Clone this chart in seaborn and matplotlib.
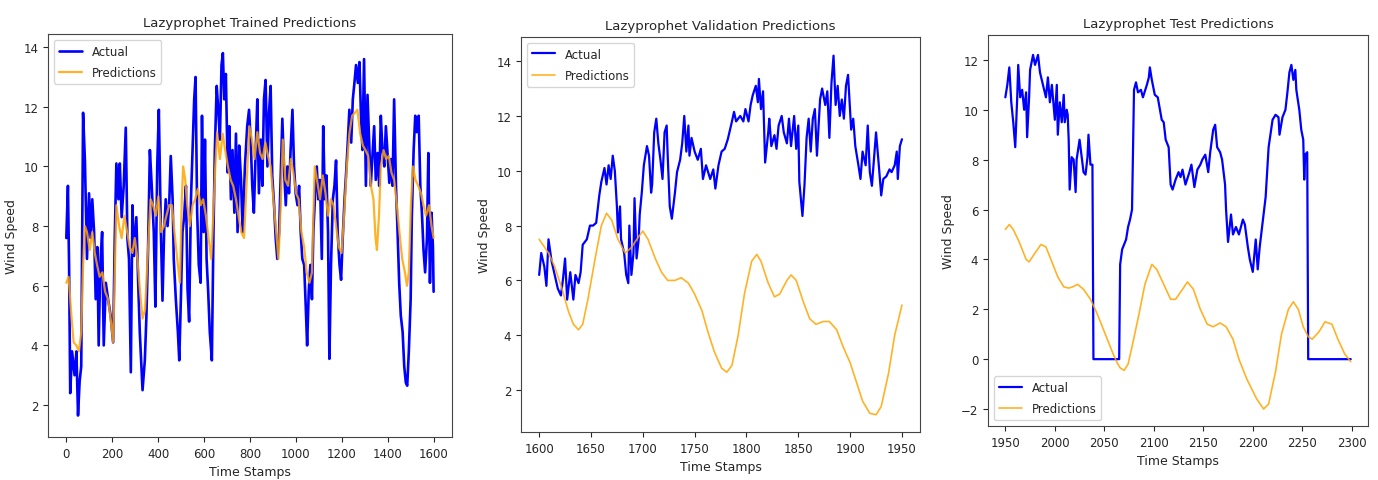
import matplotlib
matplotlib.use("Agg")
import matplotlib.pyplot as plt
import seaborn as sns
import numpy as np

# ---------------- data ----------------
train_t = [0, 7, 12, 17, 25, 36, 44, 51, 58, 65, 73, 81, 90, 99, 106, 113, 121, 128, 135, 141,
           148, 156, 163, 172, 182, 193, 204, 211, 218, 227, 233, 241, 250, 259, 266, 273, 281, 288, 295, 305,
           313, 320, 332, 342, 349, 356, 364, 372, 381, 388, 396, 403, 412, 419, 426, 433, 441, 448, 455, 463,
           468, 477, 486, 492, 499, 506, 513, 521, 528, 535, 543, 550, 557, 563, 570, 577, 585, 591, 598, 604,
           611, 618, 625, 634, 641, 647, 655, 662, 669, 676, 682, 688, 695, 703, 710, 717, 724, 732, 739, 746,
           753, 761, 768, 778, 788, 796, 803, 810, 817, 825, 832, 839, 847, 854, 861, 868, 876, 883, 890, 897,
           905, 912, 919, 927, 934, 941, 948, 956, 963, 970, 977, 985, 992, 999, 1007, 1014, 1021, 1028, 1036, 1043,
           1049, 1056, 1063, 1070, 1076, 1084, 1091, 1098, 1105, 1113, 1119, 1126, 1133, 1140, 1146, 1153, 1161, 1168, 1175, 1182,
           1190, 1197, 1204, 1212, 1219, 1226, 1233, 1241, 1248, 1255, 1262, 1270, 1277, 1284, 1290, 1297, 1305, 1312, 1319, 1326,
           1334, 1341, 1348, 1356, 1363, 1370, 1377, 1385, 1392, 1399, 1407, 1414, 1421, 1428, 1436, 1443, 1450, 1457, 1465, 1472,
           1479, 1485, 1492, 1500, 1505, 1513, 1520, 1527, 1535, 1542, 1549, 1556, 1563, 1571, 1577, 1584, 1591, 1597, 1600]
train_actual = [7.6, 9.35, 6.7, 2.4, 3.8, 3.0, 3.8, 1.65, 2.8, 3.3, 11.8, 10.2, 6.9, 9.1, 7.6, 8.9, 7.8, 5.55, 7.3, 4.0,
                6.7, 7.8, 4.0, 6.1, 5.55, 5.0, 4.1, 7.6, 10.1, 8.9, 10.1, 8.3, 9.35, 11.3, 7.6, 6.9, 3.1, 8.7, 7.0, 8.3,
                6.1, 4.45, 2.5, 3.5, 5.0, 7.2, 10.55, 9.35, 7.8, 5.3, 10.0, 11.9, 7.8, 5.5, 7.8, 8.9, 8.0, 8.7, 10.35, 8.9,
                6.9, 5.55, 4.45, 3.5, 5.55, 7.8, 8.3, 9.35, 5.9, 4.8, 8.9, 10.55, 12.25, 13.0, 8.45, 6.7, 6.1, 11.7, 7.8, 10.9,
                6.9, 5.8, 4.45, 3.5, 7.8, 10.55, 12.7, 11.9, 10.9, 13.4, 13.8, 12.25, 13.1, 9.8, 11.35, 8.9, 10.55, 8.45, 11.1, 7.8,
                10.7, 9.55, 7.8, 10.0, 11.35, 11.9, 10.9, 9.35, 8.45, 10.55, 12.25, 9.1, 10.9, 9.35, 12.25, 12.9, 10.0, 11.8, 12.7, 9.7,
                8.7, 7.6, 6.9, 7.8, 9.7, 11.6, 10.0, 8.7, 10.0, 9.1, 10.55, 11.9, 10.0, 9.1, 8.7, 9.35, 7.8, 6.9, 6.7, 5.3,
                4.0, 5.8, 6.7, 5.55, 7.8, 9.1, 10.0, 8.9, 9.55, 6.9, 11.35, 8.9, 9.7, 7.8, 3.55, 6.7, 8.9, 9.35, 10.2, 7.8,
                6.7, 6.2, 7.6, 8.9, 9.8, 10.8, 11.9, 10.8, 12.25, 12.8, 13.4, 12.8, 13.5, 11.6, 10.55, 13.6, 9.35, 12.4, 10.9, 9.35,
                10.45, 11.35, 9.55, 10.45, 9.35, 11.7, 10.55, 10.0, 11.35, 10.45, 9.45, 10.25, 9.35, 12.25, 9.35, 7.8, 6.1, 5.0, 4.45, 3.3,
                2.75, 2.65, 3.8, 5.55, 8.3, 10.55, 11.7, 11.15, 11.7, 9.35, 8.45, 7.2, 6.45, 7.6, 10.45, 6.1, 8.45, 7.3, 5.8]

train_pred_t = [0, 10, 22, 32, 44, 55, 65, 73, 81, 90, 102, 113, 124, 134, 145, 157, 169, 182, 193, 204,
                211, 218, 230, 241, 253, 265, 276, 288, 298, 310, 320, 332, 343, 355, 367, 378, 390, 401, 413, 425,
                436, 448, 460, 471, 483, 495, 503, 509, 518, 527, 538, 550, 561, 573, 585, 596, 608, 620, 631, 640,
                649, 657, 669, 681, 692, 704, 716, 727, 739, 750, 762, 774, 785, 797, 809, 820, 832, 844, 855, 867,
                879, 890, 902, 914, 924, 934, 943, 954, 966, 978, 989, 1001, 1012, 1024, 1036, 1047, 1059, 1070, 1082, 1094,
                1105, 1117, 1129, 1140, 1152, 1164, 1175, 1187, 1199, 1210, 1222, 1233, 1245, 1257, 1268, 1280, 1292, 1303, 1315, 1327,
                1338, 1347, 1353, 1362, 1370, 1382, 1393, 1405, 1416, 1428, 1440, 1451, 1463, 1475, 1484, 1492, 1501, 1510, 1521, 1533,
                1545, 1556, 1567, 1580, 1591, 1600]
train_pred = [6.1, 6.3, 5.0, 4.1, 4.0, 3.8, 4.45, 6.7, 8.0, 7.8, 7.2, 7.8, 7.1, 6.7, 6.3, 6.45, 5.8, 5.55, 4.9, 4.1,
              6.45, 8.7, 8.0, 7.6, 8.35, 7.8, 7.3, 7.1, 7.6, 6.9, 5.9, 4.9, 5.2, 7.1, 8.9, 8.7, 8.35, 9.0, 7.8, 8.0,
              8.35, 8.7, 8.7, 7.8, 6.9, 6.1, 8.9, 10.0, 9.55, 8.7, 8.0, 8.7, 8.9, 9.25, 8.7, 8.9, 8.35, 7.6, 6.9, 8.35,
              10.0, 11.15, 10.25, 11.1, 10.55, 10.0, 9.55, 9.35, 8.9, 8.35, 7.8, 7.6, 9.35, 11.35, 10.9, 10.25, 11.15, 10.45, 10.25, 10.8,
              10.35, 10.0, 8.9, 7.8, 6.9, 8.7, 10.9, 9.55, 9.35, 10.25, 9.8, 9.1, 8.9, 7.8, 7.3, 6.45, 6.1, 6.45, 10.0, 9.45,
              8.9, 9.7, 9.1, 8.35, 8.9, 8.7, 8.0, 7.3, 7.1, 8.35, 10.0, 11.1, 11.7, 11.8, 11.9, 11.1, 10.7, 10.55, 10.35, 9.35,
              8.9, 7.6, 7.2, 8.35, 10.0, 10.55, 10.25, 10.35, 9.8, 9.55, 8.7, 7.8, 6.9, 6.45, 6.0, 6.45, 8.7, 10.0, 9.55, 9.35,
              9.1, 8.7, 8.35, 8.7, 8.0, 7.6]

val_t = [1600, 1602, 1605, 1607, 1609, 1612, 1615, 1618, 1621, 1623, 1625, 1627, 1630, 1633, 1635, 1638, 1640, 1642, 1646, 1649,
         1652, 1655, 1658, 1660, 1663, 1665, 1667, 1669, 1671, 1673, 1675, 1676, 1678, 1679, 1682, 1684, 1686, 1687, 1689, 1691,
         1692, 1694, 1696, 1697, 1699, 1701, 1704, 1706, 1708, 1709, 1711, 1713, 1715, 1717, 1719, 1721, 1723, 1724, 1726, 1728,
         1731, 1733, 1736, 1738, 1740, 1742, 1744, 1745, 1747, 1750, 1753, 1756, 1758, 1761, 1765, 1768, 1770, 1773, 1776, 1779,
         1782, 1786, 1788, 1790, 1794, 1797, 1799, 1802, 1804, 1806, 1809, 1811, 1812, 1814, 1816, 1818, 1821, 1822, 1824, 1827,
         1829, 1831, 1834, 1836, 1839, 1841, 1843, 1846, 1848, 1850, 1851, 1854, 1856, 1858, 1860, 1862, 1864, 1866, 1868, 1871,
         1873, 1876, 1878, 1880, 1882, 1884, 1886, 1888, 1890, 1892, 1894, 1896, 1898, 1901, 1903, 1905, 1908, 1910, 1912, 1915,
         1917, 1919, 1921, 1923, 1925, 1928, 1930, 1932, 1935, 1938, 1940, 1943, 1945, 1946, 1948, 1950]
val_actual = [6.2, 7.0, 6.5, 5.8, 7.5, 6.7, 6.2, 5.7, 5.45, 6.05, 6.8, 5.3, 6.3, 5.3, 6.2, 5.9, 6.3, 7.3, 7.5, 8.0,
              8.0, 8.1, 9.1, 9.6, 10.1, 9.5, 10.2, 9.7, 10.55, 10.0, 8.7, 7.75, 8.7, 7.5, 7.0, 6.2, 5.9, 8.0, 6.2, 7.0,
              9.0, 6.8, 7.5, 8.4, 9.2, 10.2, 10.9, 10.55, 9.2, 9.5, 11.4, 11.9, 11.0, 10.4, 9.7, 11.4, 11.65, 10.55, 8.7, 8.25,
              9.2, 9.95, 10.4, 11.0, 12.0, 10.7, 11.65, 10.55, 11.2, 10.7, 10.4, 10.8, 9.7, 10.2, 9.7, 10.05, 9.35, 10.2, 10.7, 10.8,
              11.15, 11.8, 12.15, 11.8, 12.0, 11.8, 12.25, 11.8, 12.4, 12.75, 13.1, 12.5, 13.35, 12.25, 12.9, 10.3, 11.4, 11.9, 10.9, 11.3,
              10.8, 11.65, 12.0, 11.4, 11.0, 11.9, 10.9, 12.0, 10.8, 11.65, 9.6, 8.35, 9.5, 11.2, 11.9, 10.7, 11.9, 12.25, 10.55, 12.6,
              13.0, 12.4, 12.9, 11.2, 13.2, 14.2, 12.4, 13.1, 12.0, 12.6, 11.9, 13.1, 13.5, 11.5, 11.9, 10.9, 10.2, 9.7, 10.7, 10.2,
              11.65, 9.95, 9.45, 10.4, 11.4, 10.05, 9.1, 9.7, 9.8, 10.05, 9.95, 10.2, 10.7, 9.7, 10.9, 11.15]

val_pred_t = [1600, 1609, 1615, 1622, 1628, 1633, 1638, 1642, 1647, 1654, 1660, 1665, 1670, 1676, 1683, 1689, 1696, 1700, 1705, 1712,
              1718, 1724, 1731, 1737, 1744, 1750, 1757, 1763, 1769, 1776, 1781, 1786, 1792, 1798, 1805, 1810, 1814, 1821, 1827, 1832,
              1839, 1843, 1848, 1855, 1861, 1867, 1874, 1880, 1887, 1893, 1900, 1906, 1912, 1919, 1925, 1930, 1937, 1943, 1950]
val_pred = [7.5, 7.0, 6.5, 5.7, 4.9, 4.4, 4.2, 4.4, 5.3, 6.8, 8.0, 8.45, 8.2, 7.5, 7.0, 7.2, 7.6, 7.8, 7.5, 6.8,
            6.3, 6.0, 6.0, 6.1, 5.9, 5.5, 4.9, 4.1, 3.4, 2.8, 2.65, 2.9, 4.0, 5.5, 6.7, 6.95, 6.7, 5.9, 5.4, 5.5,
            6.0, 6.2, 6.0, 5.2, 4.6, 4.4, 4.5, 4.5, 4.2, 3.6, 3.0, 2.3, 1.6, 1.15, 1.1, 1.4, 2.6, 4.0, 5.1]

test_t = [1950, 1952, 1954, 1956, 1958, 1960, 1962, 1963, 1965, 1967, 1969, 1971, 1972, 1974, 1975, 1978, 1980, 1983, 1985, 1988,
          1991, 1993, 1995, 1997, 2000, 2002, 2003, 2005, 2007, 2009, 2010, 2012, 2013, 2014, 2015, 2017, 2019, 2021, 2022, 2025,
          2029, 2031, 2033, 2034, 2036, 2038, 2039, 2065, 2066, 2068, 2072, 2074, 2076, 2078, 2080, 2082, 2084, 2087, 2089, 2093,
          2095, 2096, 2098, 2101, 2104, 2108, 2110, 2112, 2115, 2117, 2119, 2122, 2125, 2127, 2129, 2132, 2136, 2138, 2141, 2144,
          2147, 2149, 2152, 2155, 2157, 2160, 2162, 2164, 2167, 2169, 2172, 2173, 2175, 2178, 2180, 2183, 2186, 2190, 2192, 2195,
          2197, 2200, 2203, 2205, 2207, 2210, 2213, 2216, 2220, 2223, 2226, 2227, 2230, 2233, 2235, 2237, 2239, 2241, 2243, 2244,
          2247, 2249, 2251, 2252, 2253, 2255, 2256, 2299]
test_actual = [10.5, 11.0, 11.7, 10.3, 9.5, 8.5, 10.5, 11.8, 10.5, 10.8, 10.0, 10.7, 8.9, 10.5, 11.6, 12.2, 11.8, 12.2, 11.5, 11.0,
               10.5, 11.3, 10.3, 11.0, 9.6, 11.0, 9.0, 10.3, 9.5, 10.6, 9.5, 10.0, 9.8, 8.8, 6.8, 8.1, 8.0, 6.7, 8.0, 8.8,
               7.5, 7.4, 8.1, 9.0, 7.8, 7.8, 0.0, 0.0, 3.8, 4.4, 4.8, 5.3, 5.6, 6.0, 10.8, 11.1, 10.7, 10.8, 10.5, 11.0,
               11.3, 11.7, 11.2, 10.6, 10.5, 9.6, 9.5, 8.8, 8.5, 7.0, 6.8, 7.2, 7.5, 7.3, 7.6, 7.0, 7.5, 7.8, 6.9, 7.6,
               7.8, 8.0, 8.2, 7.5, 8.3, 9.2, 9.4, 8.5, 8.3, 8.0, 7.0, 6.0, 4.7, 5.8, 5.0, 5.3, 5.0, 5.6, 5.4, 4.5,
               4.0, 3.5, 4.8, 3.6, 4.5, 5.5, 6.5, 8.5, 9.6, 9.8, 9.7, 9.0, 9.7, 10.0, 10.7, 11.5, 11.8, 11.2, 11.6, 10.8,
               10.0, 9.2, 8.8, 7.2, 8.2, 8.3, 0.0, 0.0]

test_pred_t = [1950, 1954, 1958, 1964, 1971, 1974, 1979, 1986, 1991, 1996, 2003, 2009, 2014, 2018, 2023, 2029, 2036, 2043, 2051, 2059,
               2063, 2066, 2070, 2074, 2078, 2085, 2091, 2098, 2103, 2110, 2117, 2122, 2129, 2134, 2140, 2147, 2154, 2160, 2167, 2173,
               2180, 2186, 2194, 2204, 2211, 2216, 2223, 2229, 2236, 2241, 2246, 2251, 2256, 2260, 2267, 2273, 2280, 2286, 2293, 2299]
test_pred = [5.2, 5.4, 5.2, 4.7, 4.0, 3.9, 4.2, 4.6, 4.5, 4.0, 3.3, 2.9, 2.85, 2.9, 3.0, 2.8, 2.4, 1.8, 1.0, 0.2,
             -0.15, -0.35, -0.45, -0.2, 0.5, 1.8, 3.0, 3.8, 3.6, 3.0, 2.4, 2.4, 2.8, 3.1, 2.8, 2.0, 1.4, 1.3, 1.45, 1.3,
             0.8, 0.0, -0.8, -1.6, -2.0, -1.8, -0.5, 1.0, 2.0, 2.3, 2.0, 1.3, 0.9, 0.8, 1.1, 1.5, 1.4, 0.8, 0.2, -0.1]

titles = ["Lazyprophet Trained Predictions", "Lazyprophet Validation Predictions", "Lazyprophet Test Predictions"]

# ---------------- figure ----------------
sns.set_style("ticks")
plt.rcParams['font.family'] = ['DejaVu Sans']
fig = plt.figure(figsize=(13.78, 4.81), dpi=100)

positions = [
    [0.0348, 0.0894, 0.2932, 0.8378],
    [0.3781, 0.0998, 0.2896, 0.8212],
    [0.7170, 0.1123, 0.2758, 0.8129],
]
panels = [
    (train_t, train_actual, train_pred_t, train_pred, (-80, 1680), (0.93, 14.44), np.arange(0, 1601, 200), np.arange(2, 15, 2), "upper left", 1.9, 1.6),
    (val_t, val_actual, val_pred_t, val_pred, (1582.5, 1967.5), (0.47, 14.88), np.arange(1600, 1951, 50), np.arange(2, 15, 2), "upper left", 1.6, 1.2),
    (test_t, test_actual, test_pred_t, test_pred, (1932.5, 2316.5), (-2.68, 13.0), np.arange(1950, 2301, 50), np.arange(-2, 13, 2), "lower left", 1.6, 1.2),
]

for pos, (xt, ya, xp, yp, xl, yl, xtk, ytk, loc, lwa, lwp), title in zip(positions, panels, titles):
    ax = fig.add_axes(pos)
    sns.lineplot(x=xt, y=ya, ax=ax, color="blue", linewidth=lwa, label="Actual", estimator=None, sort=False)
    sns.lineplot(x=xp, y=yp, ax=ax, color="orange", linewidth=lwp, alpha=0.85, label="Predictions", estimator=None, sort=False)
    ax.set_xlim(*xl)
    ax.set_ylim(*yl)
    ax.set_xticks(xtk)
    ax.set_yticks(ytk)
    ax.tick_params(labelsize=8.5)
    ax.set_title(title, fontsize=9.5)
    ax.set_xlabel("Time Stamps", fontsize=9)
    ax.set_ylabel("Wind Speed", fontsize=9)
    for s in ax.spines.values():
        s.set_color("#444444")
    ax.legend(loc=loc, fontsize=8.5, frameon=True, labelspacing=0.7)

fig.savefig("out.png", dpi=100)
